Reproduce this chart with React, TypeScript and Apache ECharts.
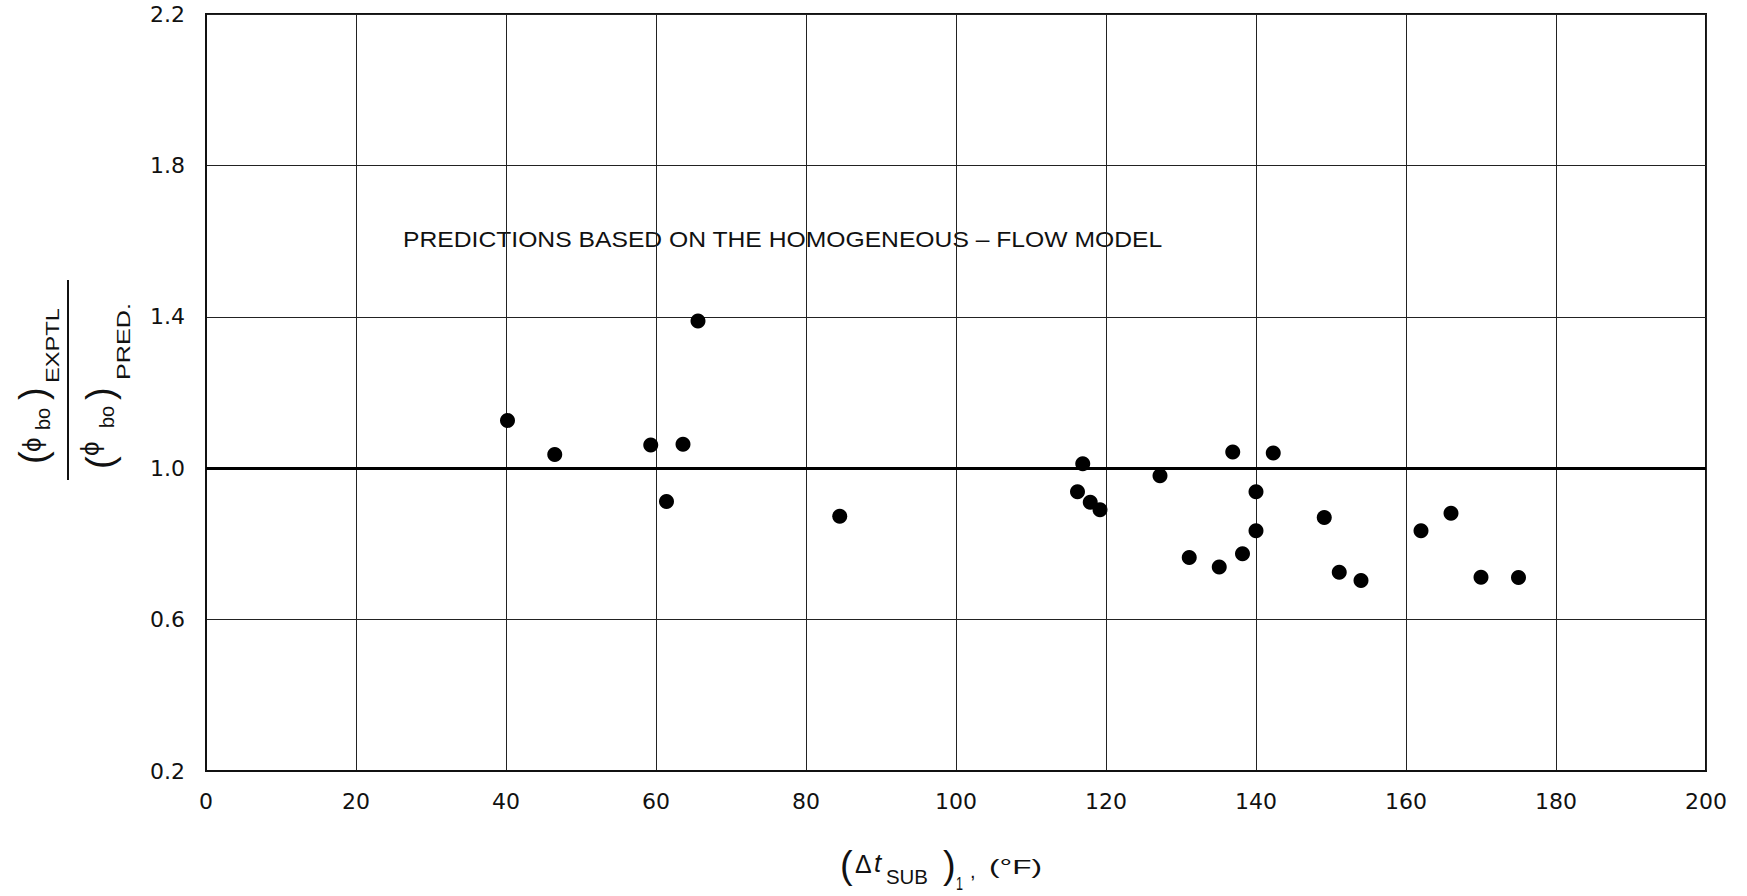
import React, { useEffect, useRef } from "react";
import * as echarts from "echarts";

// Data
const xValues = [40.2, 46.5, 59.3, 61.4, 63.6, 65.6, 84.5, 116.2, 116.9, 117.9, 119.2, 127.2, 131.1, 135.1, 136.9, 138.2, 140.0, 140.0, 142.3, 149.1, 151.1, 154.0, 162.0, 166.0, 170.0, 175.0];
const yValues = [1.126, 1.036, 1.061, 0.912, 1.063, 1.389, 0.873, 0.938, 1.012, 0.910, 0.890, 0.980, 0.764, 0.739, 1.043, 0.774, 0.938, 0.835, 1.040, 0.870, 0.725, 0.703, 0.835, 0.881, 0.712, 0.711];
const referenceLineValue = [1.0];
const xTicks = { min: 0, max: 200, interval: 20 };
const yTicks = { min: 0.2, max: 2.2, interval: 0.4 };
const annotationText = "PREDICTIONS BASED ON THE HOMOGENEOUS – FLOW MODEL";

const FONT = '"Liberation Sans", Arial, sans-serif';
const TICK_FONT = '"DejaVu Sans", sans-serif';
const INK = "#111";

function measure(text: string, font: string): number {
  const c = document.createElement("canvas").getContext("2d");
  if (!c) return text.length * 10;
  c.font = font;
  return c.measureText(text).width || 1;
}

function txt(text: string, x: number, y: number, size: number, o: { w?: number; italic?: boolean; family?: string } = {}) {
  const family = o.family || FONT;
  const fontStyle = o.italic ? "italic" : "normal";
  const font = `${fontStyle} ${size}px ${family}`;
  const el: any = {
    type: "text",
    x,
    y,
    style: {
      text,
      fontSize: size,
      fontFamily: family,
      fontStyle,
      fill: INK,
      align: "left",
      verticalAlign: "middle",
    },
  };
  if (o.w) el.scaleX = o.w / measure(text, font);
  return el;
}

export default function App() {
  const ref = useRef<HTMLDivElement>(null);
  useEffect(() => {
    if (!ref.current) return;
    const chart = echarts.init(ref.current, undefined, { renderer: "svg" });
    const data = xValues.map((x, i) => [x, yValues[i]]);

    const yTitle = {
      type: "group",
      x: 68,
      y: 380,
      rotation: Math.PI / 2,
      children: [
        { type: "line", shape: { x1: -100, y1: 0, x2: 100, y2: 0 }, style: { stroke: INK, lineWidth: 2 } },
        // numerator
        txt("(", -84, -35, 38),
        txt("ϕ", -72, -36, 26),
        txt("bo", -50, -25, 20),
        txt(")", -20, -35, 38),
        txt("EXPTL", -3, -15, 18, { w: 75 }),
        // denominator
        txt("(", -89, 32, 38),
        txt("ϕ", -76, 22, 26),
        txt("bo", -48, 39, 20),
        txt(")", -20, 32, 38),
        txt("PRED.", 0, 56, 18, { w: 77 }),
      ],
    };

    const xTitle = [
      txt("(", 840, 865, 38),
      txt("Δ", 855, 864, 25),
      txt("t", 874, 863, 26, { italic: true }),
      txt("SUB", 886, 877, 20, { w: 42 }),
      txt(")", 943, 865, 38),
      txt("1", 956, 884, 18, { w: 7 }),
      txt(",", 970, 871, 20),
      txt("(°F)", 989, 867, 20, { w: 53 }),
    ];

    chart.setOption({
      animation: false,
      backgroundColor: "#fff",
      grid: {
        left: 206,
        right: 41,
        top: 14,
        bottom: 125,
        show: true,
        borderColor: INK,
        borderWidth: 2,
        backgroundColor: "transparent",
      },
      xAxis: {
        type: "value",
        min: xTicks.min,
        max: xTicks.max,
        interval: xTicks.interval,
        axisLine: { show: true, lineStyle: { color: INK, width: 2 } },
        axisTick: { show: false },
        splitLine: { show: true, lineStyle: { color: "#222", width: 1 } },
        axisLabel: { fontSize: 22, color: INK, margin: 19, fontFamily: TICK_FONT },
      },
      yAxis: {
        type: "value",
        min: yTicks.min,
        max: yTicks.max,
        interval: yTicks.interval,
        axisLine: { show: true, lineStyle: { color: INK, width: 2 } },
        axisTick: { show: false },
        splitLine: { show: true, lineStyle: { color: "#222", width: 1 } },
        axisLabel: {
          fontSize: 22,
          color: INK,
          margin: 21,
          fontFamily: TICK_FONT,
          formatter: (v: number) => v.toFixed(1),
        },
      },
      series: [
        {
          type: "scatter",
          data,
          symbol: "circle",
          symbolSize: 15,
          itemStyle: { color: "#000", opacity: 1 },
          z: 3,
          markLine: {
            silent: true,
            animation: false,
            symbol: "none",
            label: { show: false },
            lineStyle: { color: "#000", width: 3, type: "solid", opacity: 1 },
            data: referenceLineValue.map((v) => ({ yAxis: v })),
          },
        },
      ],
      graphic: [
        txt(annotationText, 403, 239, 22, { w: 760 }),
        yTitle,
        ...xTitle,
      ],
    });
    return () => chart.dispose();
  }, []);
  return (
    <div
      ref={ref}
      style={{ position: "fixed", left: 0, top: 0, width: 1747, height: 896, background: "#fff" }}
    />
  );
}
